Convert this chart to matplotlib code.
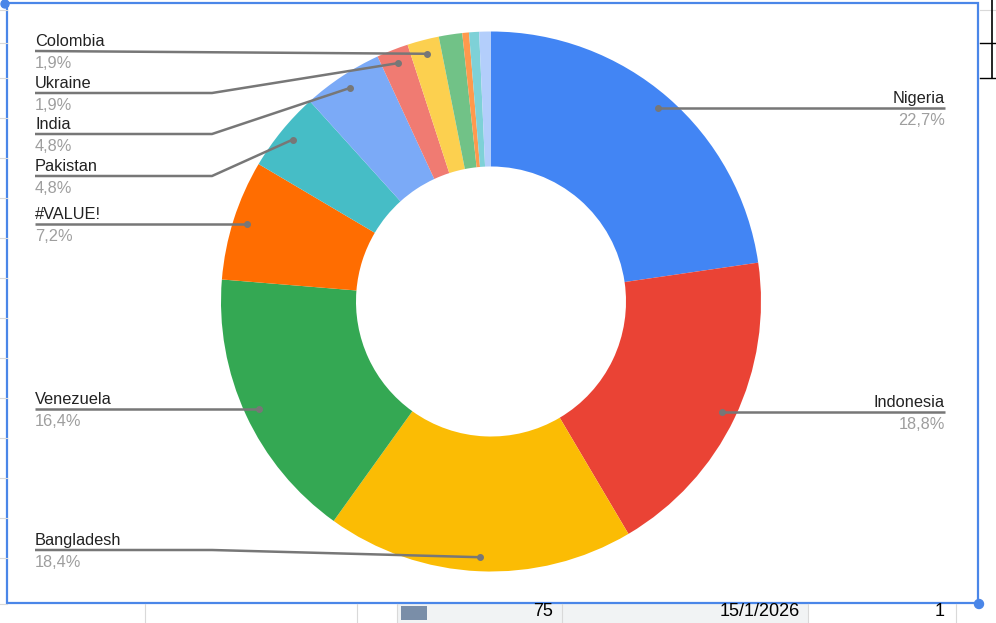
import numpy as np
import matplotlib.pyplot as plt
from matplotlib.patches import Rectangle, Circle

# --- datos ---
labels = ['Nigeria', 'Indonesia', 'Bangladesh', 'Venezuela', '#VALUE!',
          'Pakistan', 'India', 'Ukraine', 'Colombia', '', '', '', '']
values = [22.7, 18.8, 18.4, 16.4, 7.2, 4.8, 4.8, 1.9, 1.9, 1.4, 0.4, 0.6, 0.7]
colors = ['#4285f4', '#ea4335', '#fbbc04', '#34a853', '#ff6d01', '#46bdc6',
          '#7baaf7', '#f07b72', '#fcd04f', '#71c287', '#ff994d', '#7ed1d7', '#b3cefb']

W, H = 996, 623
def Y(yp):
    return H - yp

fig = plt.figure(figsize=(W / 100, H / 100), dpi=100)
ax = fig.add_axes([0, 0, 1, 1])

cx, cy, R = 491, 301.5, 270
ax.pie(values, colors=colors, startangle=90, counterclock=False,
       radius=R, center=(cx, Y(cy)),
       wedgeprops=dict(width=R * 0.5, linewidth=0))

ax.set_xlim(0, W)
ax.set_ylim(0, H)
ax.set_aspect('equal')
ax.axis('off')

# --- etiquetas ---
total = sum(values)
cum = np.cumsum([0] + values)
line_col = '#777777'
# (indice, lado, y de la linea; None = a la altura del punto)
label_pos = [(0, 'r', None), (1, 'r', None), (2, 'l', 550), (3, 'l', None),
             (4, 'l', None), (5, 'l', 176), (6, 'l', 134), (7, 'l', 93), (8, 'l', 51)]
for i, side, ly in label_pos:
    mid = (cum[i] + cum[i + 1]) / 2 / total
    ang = np.deg2rad(90 - 360 * mid)
    dx = cx + 0.948 * R * np.cos(ang)
    dy = Y(cy) + 0.948 * R * np.sin(ang)
    if ly is None:
        ly = H - dy
    pct = f"{values[i] / total * 100:.1f}%".replace('.', ',')
    if side == 'r':
        ax.plot([dx, 945], [dy, dy], color=line_col, lw=1.8, solid_capstyle='butt')
        tx, ha = 945, 'right'
    else:
        if abs(Y(ly) - dy) < 6:
            xs, ys = [35, dx], [Y(ly), dy]
        else:
            xs, ys = [35, 212, dx], [Y(ly), Y(ly), dy]
        ax.plot(xs, ys, color=line_col, lw=1.8, solid_capstyle='butt')
        tx, ha = 35, 'left'
    ax.plot(dx, dy, 'o', color=line_col, ms=4)
    ax.text(tx, Y(ly - 5), labels[i], ha=ha, va='baseline', fontsize=11.8,
            color='#222222', family='Liberation Sans')
    ax.text(tx, Y(ly + 17), pct, ha=ha, va='baseline', fontsize=11.8,
            color='#9e9e9e', family='Liberation Sans')

# --- entorno de la hoja de calculo ---
grid = '#d9d9d9'
for yp in [10, 43, 78, 118, 158, 198, 238, 278, 318, 358, 398, 438, 478, 518, 558, 604]:
    ax.plot([0, 7], [Y(yp), Y(yp)], color=grid, lw=0.8)
ax.add_patch(Rectangle((397, 0), 411, Y(604), facecolor='#f1f3f4', edgecolor='none'))
for xp in [145, 357, 397, 562, 808, 956]:
    ax.plot([xp, xp], [0, Y(604)], color=grid, lw=0.8)
ax.plot([980, W], [Y(10), Y(10)], color=grid, lw=0.8)
ax.plot([980, W], [Y(43), Y(43)], color='black', lw=1)
ax.plot([980, W], [Y(78), Y(78)], color='black', lw=1)
ax.plot([992, 992], [Y(0), Y(78)], color='black', lw=1.2)
ax.add_patch(Rectangle((401, Y(620)), 26, 14, facecolor='#7a8ea8', edgecolor='none'))
ax.text(553, Y(612), '75', ha='right', va='center', fontsize=13, family='Liberation Sans')
ax.text(800, Y(612), '15/1/2026', ha='right', va='center', fontsize=13, family='Liberation Sans')
ax.text(945, Y(612), '1', ha='right', va='center', fontsize=13, family='Liberation Sans')

# marco del grafico seleccionado
ax.add_patch(Rectangle((7, Y(603)), 971, 600, facecolor='none', edgecolor='#4a86e8', lw=1.6))
ax.add_patch(Circle((5, Y(4)), 4, color='#4a86e8'))
ax.add_patch(Circle((979, Y(604)), 4.5, color='#4a86e8'))

fig.savefig('out.png', dpi=100)
